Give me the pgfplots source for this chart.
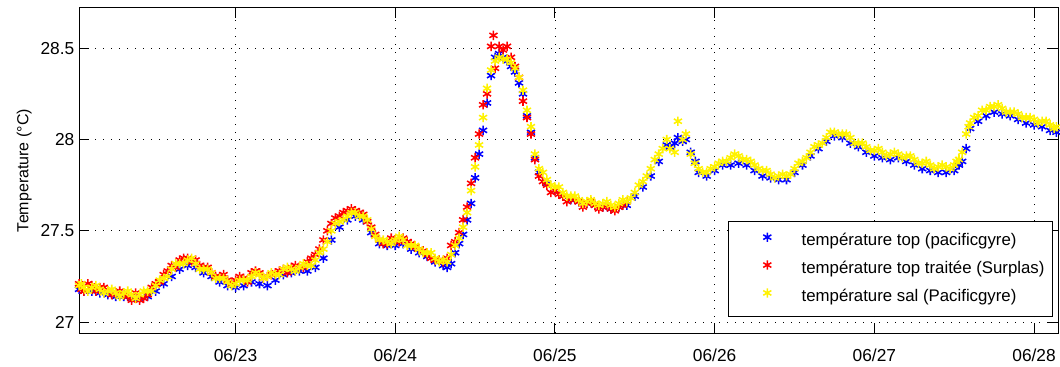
\documentclass[border=0pt]{standalone}
\usepackage{pgfplots}
\pgfplotsset{compat=1.18}
\usepackage{pgfplotstable}
\usepackage{fontspec}
\setmainfont{Liberation Sans}

\pgfplotstableread{
x y
22.02 27.20
22.035 27.21
22.05 27.19
22.075 27.17
22.10 27.19
22.125 27.20
22.15 27.18
22.175 27.16
22.20 27.17
22.225 27.18
22.25 27.16
22.275 27.14
22.30 27.16
22.325 27.17
22.35 27.15
22.375 27.13
22.40 27.15
22.425 27.17
22.45 27.17
22.475 27.17
22.50 27.20
22.525 27.23
22.55 27.24
22.575 27.25
22.60 27.29
22.625 27.32
22.65 27.32
22.675 27.32
22.70 27.34
22.725 27.35
22.75 27.32
22.775 27.29
22.80 27.29
22.825 27.29
22.85 27.27
22.875 27.24
22.90 27.24
22.925 27.24
22.95 27.22
22.975 27.20
23.00 27.21
23.025 27.23
23.05 27.23
23.075 27.23
23.10 27.25
23.125 27.27
23.15 27.26
23.175 27.24
23.20 27.25
23.225 27.27
23.25 27.26
23.275 27.26
23.30 27.29
23.325 27.30
23.35 27.29
23.375 27.28
23.40 27.30
23.425 27.32
23.45 27.31
23.475 27.31
23.50 27.34
23.525 27.38
23.55 27.40
23.575 27.44
23.60 27.50
23.625 27.54
23.65 27.55
23.675 27.56
23.70 27.58
23.725 27.60
23.75 27.60
23.775 27.58
23.80 27.58
23.825 27.56
23.85 27.51
23.875 27.47
23.90 27.45
23.925 27.45
23.95 27.44
23.975 27.43
24.00 27.45
24.025 27.47
24.05 27.45
24.075 27.42
24.10 27.42
24.125 27.42
24.15 27.40
24.175 27.38
24.20 27.38
24.225 27.38
24.25 27.35
24.275 27.33
24.30 27.34
24.325 27.33
24.35 27.37
24.375 27.42
24.40 27.46
24.425 27.52
24.45 27.60
24.475 27.72
24.50 27.85
24.525 27.97
24.55 28.12
24.575 28.28
24.60 28.38
24.625 28.43
24.65 28.45
24.675 28.44
24.70 28.44
24.725 28.42
24.75 28.39
24.775 28.34
24.80 28.27
24.825 28.16
24.85 28.07
24.875 27.92
24.90 27.84
24.925 27.82
24.95 27.78
24.975 27.75
25.00 27.74
25.025 27.74
25.05 27.71
25.075 27.69
25.10 27.69
25.125 27.69
25.15 27.67
25.175 27.65
25.20 27.66
25.225 27.67
25.25 27.65
25.275 27.64
25.30 27.65
25.325 27.66
25.35 27.64
25.375 27.63
25.40 27.65
25.425 27.67
25.45 27.66
25.475 27.68
25.50 27.71
25.525 27.75
25.55 27.77
25.575 27.80
25.60 27.84
25.625 27.89
25.65 27.92
25.675 27.95
25.70 28.00
25.72 27.95
25.75 27.93
25.77 28.10
25.80 28.00
25.82 28.03
25.85 27.92
25.875 27.87
25.90 27.84
25.925 27.82
25.95 27.82
25.975 27.84
26.00 27.85
26.025 27.87
26.05 27.88
26.075 27.88
26.10 27.90
26.125 27.92
26.15 27.91
26.175 27.89
26.20 27.89
26.225 27.88
26.25 27.86
26.275 27.84
26.30 27.83
26.325 27.83
26.35 27.81
26.375 27.79
26.40 27.80
26.425 27.81
26.45 27.80
26.475 27.81
26.50 27.84
26.525 27.87
26.55 27.88
26.575 27.90
26.60 27.93
26.625 27.96
26.65 27.97
26.675 27.98
26.70 28.01
26.725 28.04
26.75 28.04
26.775 28.03
26.80 28.03
26.825 28.03
26.85 28.01
26.875 27.98
26.90 27.98
26.925 27.98
26.95 27.96
26.975 27.94
27.00 27.94
27.025 27.95
27.05 27.93
27.075 27.91
27.10 27.92
27.125 27.93
27.15 27.92
27.175 27.90
27.20 27.91
27.225 27.91
27.25 27.89
27.275 27.87
27.30 27.87
27.325 27.88
27.35 27.86
27.375 27.84
27.40 27.85
27.425 27.86
27.45 27.85
27.475 27.84
27.50 27.86
27.515 27.88
27.53 27.89
27.55 27.93
27.575 28.03
27.59 28.07
27.60 28.09
27.625 28.12
27.65 28.13
27.675 28.16
27.70 28.16
27.725 28.18
27.75 28.18
27.775 28.19
27.80 28.17
27.825 28.15
27.85 28.15
27.875 28.15
27.90 28.14
27.925 28.12
27.95 28.12
27.975 28.12
28.00 28.11
28.025 28.09
28.05 28.10
28.075 28.10
28.10 28.08
28.125 28.06
28.14 28.07
}\salpac

\pgfplotstableread{
x y
22.02 27.18
22.05 27.17
22.10 27.17
22.15 27.16
22.20 27.15
22.25 27.14
22.30 27.14
22.35 27.13
22.40 27.13
22.45 27.14
22.50 27.17
22.55 27.21
22.60 27.25
22.65 27.29
22.70 27.31
22.75 27.30
22.80 27.27
22.85 27.25
22.90 27.22
22.95 27.20
23.00 27.19
23.05 27.20
23.10 27.22
23.15 27.21
23.20 27.20
23.25 27.23
23.30 27.26
23.35 27.27
23.40 27.28
23.45 27.28
23.50 27.30
23.55 27.35
23.60 27.45
23.65 27.52
23.70 27.56
23.75 27.58
23.80 27.56
23.85 27.49
23.90 27.43
23.95 27.42
24.00 27.42
24.05 27.43
24.10 27.40
24.15 27.38
24.20 27.36
24.25 27.33
24.30 27.31
24.325 27.30
24.35 27.32
24.375 27.38
24.40 27.43
24.425 27.48
24.45 27.56
24.475 27.65
24.50 27.79
24.525 27.92
24.55 28.05
24.575 28.20
24.60 28.35
24.625 28.45
24.65 28.47
24.675 28.45
24.70 28.43
24.725 28.40
24.75 28.37
24.775 28.31
24.80 28.25
24.825 28.13
24.85 28.04
24.875 27.90
24.90 27.82
24.95 27.76
25.00 27.72
25.05 27.69
25.10 27.67
25.15 27.66
25.20 27.65
25.25 27.64
25.30 27.63
25.35 27.62
25.40 27.63
25.45 27.64
25.50 27.69
25.55 27.74
25.60 27.80
25.65 27.88
25.70 27.97
25.72 27.96
25.75 27.98
25.77 28.01
25.80 27.99
25.82 28.00
25.85 27.93
25.88 27.88
25.90 27.82
25.95 27.80
26.00 27.83
26.05 27.86
26.10 27.86
26.15 27.87
26.20 27.86
26.25 27.83
26.30 27.80
26.35 27.79
26.40 27.78
26.45 27.78
26.50 27.82
26.55 27.86
26.60 27.91
26.65 27.95
26.70 27.99
26.75 28.02
26.80 28.01
26.85 27.98
26.90 27.96
26.95 27.93
27.00 27.91
27.05 27.90
27.10 27.89
27.15 27.90
27.20 27.88
27.25 27.86
27.30 27.84
27.35 27.83
27.40 27.82
27.45 27.82
27.50 27.83
27.53 27.86
27.55 27.88
27.575 27.95
27.60 28.06
27.65 28.10
27.70 28.13
27.75 28.15
27.80 28.14
27.85 28.13
27.90 28.11
27.95 28.09
28.00 28.08
28.05 28.07
28.10 28.05
28.14 28.04
}\toppac

\pgfplotstableread{
x y
22.02 27.21
22.035 27.18
22.05 27.17
22.075 27.21
22.10 27.20
22.125 27.17
22.15 27.19
22.175 27.19
22.20 27.17
22.225 27.15
22.25 27.16
22.275 27.17
22.30 27.15
22.325 27.14
22.35 27.12
22.375 27.16
22.40 27.12
22.425 27.13
22.45 27.15
22.475 27.19
22.50 27.21
22.525 27.22
22.55 27.26
22.575 27.28
22.60 27.31
22.625 27.30
22.65 27.34
22.675 27.35
22.70 27.35
22.725 27.33
22.75 27.34
22.775 27.31
22.80 27.30
22.825 27.30
22.85 27.27
22.875 27.25
22.90 27.25
22.925 27.26
22.95 27.23
22.975 27.21
23.00 27.23
23.025 27.25
23.05 27.24
23.075 27.22
23.10 27.27
23.125 27.28
23.15 27.27
23.175 27.24
23.20 27.25
23.225 27.26
23.25 27.27
23.275 27.28
23.30 27.29
23.325 27.27
23.35 27.30
23.375 27.31
23.40 27.30
23.425 27.30
23.45 27.33
23.475 27.35
23.50 27.37
23.525 27.40
23.55 27.45
23.575 27.50
23.60 27.54
23.625 27.57
23.65 27.58
23.675 27.60
23.70 27.61
23.725 27.62
23.75 27.61
23.775 27.60
23.80 27.59
23.825 27.55
23.85 27.52
23.875 27.48
23.90 27.45
23.925 27.43
23.95 27.43
23.975 27.46
24.00 27.45
24.025 27.44
24.05 27.46
24.075 27.44
24.10 27.43
24.125 27.41
24.15 27.40
24.175 27.39
24.20 27.37
24.225 27.35
24.25 27.34
24.275 27.34
24.30 27.33
24.325 27.35
24.35 27.42
24.375 27.44
24.40 27.49
24.425 27.56
24.45 27.63
24.475 27.76
24.50 27.90
24.525 28.03
24.55 28.19
24.575 28.25
24.60 28.51
24.615 28.57
24.625 28.39
24.65 28.51
24.675 28.49
24.70 28.51
24.725 28.45
24.75 28.40
24.775 28.34
24.80 28.21
24.825 28.12
24.85 28.03
24.875 27.89
24.90 27.80
24.925 27.77
24.95 27.75
24.975 27.71
25.00 27.72
25.025 27.70
25.05 27.69
25.075 27.66
25.10 27.68
25.125 27.67
25.15 27.66
25.175 27.63
25.20 27.65
25.225 27.66
25.25 27.64
25.275 27.62
25.30 27.63
25.325 27.64
25.35 27.62
25.375 27.61
25.40 27.63
25.425 27.64
25.45 27.66
}\topsur

\pgfplotsset{
  myleg/.style={legend image code/.code={%
    \path[draw=none,fill=none] (0pt,0pt) rectangle (46.5pt,7pt);
    \draw[##1,/tikz/only marks] plot coordinates {(23.25pt,3.5pt)};}},
  mystar/.style={only marks, mark=asterisk, mark size=3.5pt, mark options={line width=1.15pt}},
}

\begin{document}
\begin{tikzpicture}
\begin{axis}[
  name=ax,
  scale only axis,
  width=734pt, height=243.75pt,
  xmin=22.02, xmax=28.15,
  ymin=26.94, ymax=28.72,
  xtick={23,24,25,26,27,28},
  xticklabels={06/23,06/24,06/25,06/26,06/27,06/28},
  ytick={27,27.5,28,28.5},
  yticklabels={27,27.5,28,28.5},
  tick pos=both,
  tick align=inside,
  major tick length=7.5pt,
  tick style={black, line width=0.75pt},
  axis line style={black, line width=0.75pt},
  grid=major,
  major grid style={black, line width=0.6pt, dash pattern=on 0.6pt off 5.4pt},
  ticklabel style={font=\fontsize{13}{15}\selectfont},
  xticklabel style={yshift=-8pt},
  /pgf/number format/assume math mode=true,
  ylabel={Temperature (°C)},
  ylabel style={font=\fontsize{12}{14}\selectfont, at={(axis description cs:-0.0559,0.5)}, anchor=center},
  legend style={at={(rel axis cs:0.9949,0.0492)}, anchor=south east,
    draw=black, line width=0.75pt, fill=white,
    font=\fontsize{12.6}{15}\selectfont,
    inner xsep=6pt, inner ysep=8.25pt, row sep=7.9pt,
    nodes={inner sep=0pt, text height=9pt, text depth=3pt},
    /tikz/every odd column/.append style={column sep=2.5pt}},
  legend cell align=left,
]
\addplot[mystar, color=blue, myleg] table {\toppac};
\addlegendentry{température top (pacificgyre)}
\addplot[mystar, color=red, myleg] table {\topsur};
\addlegendentry{température top traitée (Surplas)}
\addplot[mystar, color=yellow, myleg] table {\salpac};
\addlegendentry{température sal (Pacificgyre)}
\end{axis}
\pgfresetboundingbox
\path ([shift={(-59.25pt,-24.75pt)}]ax.south west) rectangle ([shift={(1.5pt,6pt)}]ax.north east);
\end{tikzpicture}
\end{document}
